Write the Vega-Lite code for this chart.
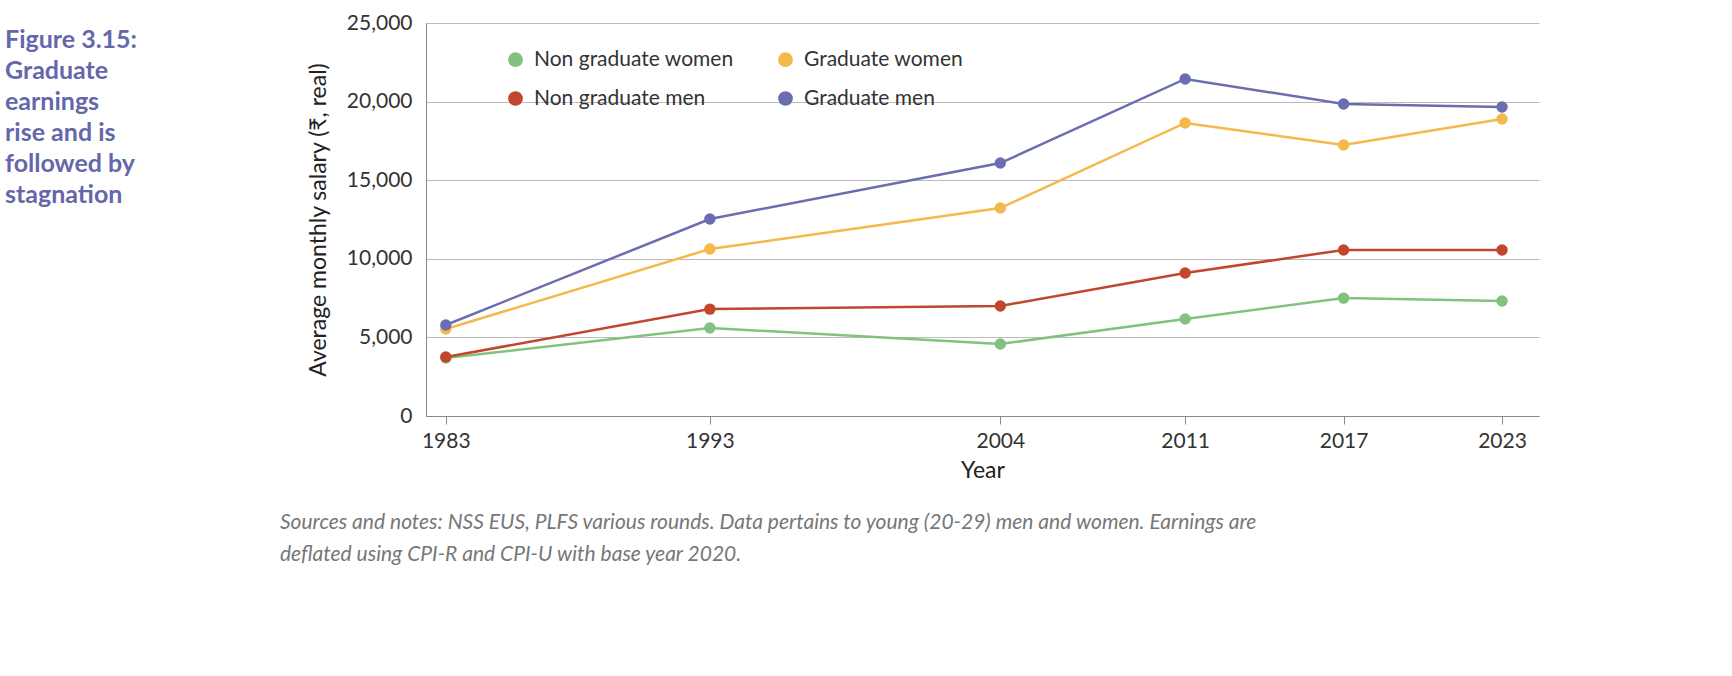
{
  "$schema": "https://vega.github.io/schema/vega-lite/v6.json",
  "background": "white",
  "padding": {"left": 5, "top": 12, "right": 10, "bottom": 5},
  "config": {"font": "Lato", "view": {"stroke": null}},
  "title": {
    "text": ["Sources and notes: NSS EUS, PLFS various rounds. Data pertains to young (20-29) men and women. Earnings are", "deflated using CPI-R and CPI-U with base year 2020."],
    "orient": "bottom", "anchor": "start", "align": "left", "fontStyle": "italic", "fontWeight": "normal",
    "fontSize": 21, "color": "#777777", "lineHeight": 32, "offset": 30, "dx": 275
  },
  "spacing": 72,
  "hconcat": [
    {
      "width": 230, "height": 393,
      "data": {"values": [
        {"i": 0, "t": "Figure 3.15:"}, {"i": 1, "t": "Graduate"}, {"i": 2, "t": "earnings"},
        {"i": 3, "t": "rise and is"}, {"i": 4, "t": "followed by"}, {"i": 5, "t": "stagnation"}
      ]},
      "mark": {"type": "text", "align": "left", "baseline": "middle", "fontSize": 25, "fontWeight": "bold", "color": "#6467aa"},
      "encoding": {
        "x": {"value": 0},
        "y": {"field": "i", "type": "quantitative", "scale": {"domain": [-0.55, 12.1], "reverse": true}, "axis": null},
        "text": {"field": "t"}
      }
    },
    {
      "width": 1113, "height": 393,
      "data": {"values": [
        {"g": "Non graduate women", "year": 1983, "v": 3690},
        {"g": "Non graduate women", "year": 1993, "v": 5600},
        {"g": "Non graduate women", "year": 2004, "v": 4580},
        {"g": "Non graduate women", "year": 2011, "v": 6170},
        {"g": "Non graduate women", "year": 2017, "v": 7500},
        {"g": "Non graduate women", "year": 2023, "v": 7320},
        {"g": "Graduate women", "year": 1983, "v": 5530},
        {"g": "Graduate women", "year": 1993, "v": 10620},
        {"g": "Graduate women", "year": 2004, "v": 13230},
        {"g": "Graduate women", "year": 2011, "v": 18640},
        {"g": "Graduate women", "year": 2017, "v": 17240},
        {"g": "Graduate women", "year": 2023, "v": 18890},
        {"g": "Non graduate men", "year": 1983, "v": 3750},
        {"g": "Non graduate men", "year": 1993, "v": 6800},
        {"g": "Non graduate men", "year": 2004, "v": 7000},
        {"g": "Non graduate men", "year": 2011, "v": 9100},
        {"g": "Non graduate men", "year": 2017, "v": 10560},
        {"g": "Non graduate men", "year": 2023, "v": 10560},
        {"g": "Graduate men", "year": 1983, "v": 5790},
        {"g": "Graduate men", "year": 1993, "v": 12530},
        {"g": "Graduate men", "year": 2004, "v": 16090},
        {"g": "Graduate men", "year": 2011, "v": 21440},
        {"g": "Graduate men", "year": 2017, "v": 19850},
        {"g": "Graduate men", "year": 2023, "v": 19660}
      ]},
      "mark": {"type": "line", "strokeWidth": 2.5, "point": {"size": 130, "filled": true, "opacity": 1}},
      "encoding": {
        "x": {"field": "year", "type": "quantitative", "title": "Year",
          "scale": {"domain": [1982.25, 2024.4], "nice": false, "zero": false},
          "axis": {"values": [1983, 1993, 2004, 2011, 2017, 2023], "format": "d", "grid": false,
            "labelFontSize": 21, "titleFontSize": 23, "titleFontWeight": "normal", "labelColor": "#333", "titleColor": "#222",
            "domainColor": "#888", "tickColor": "#888", "tickSize": 8, "labelPadding": 6, "titlePadding": 8}},
        "y": {"field": "v", "type": "quantitative", "title": "Average monthly salary (₹, real)",
          "scale": {"domain": [0, 25000], "nice": false},
          "axis": {"values": [0, 5000, 10000, 15000, 20000, 25000], "format": ",.0f", "ticks": false, "domain": true,
            "domainColor": "#888", "gridColor": "#bbbbbb", "labelFontSize": 21, "titleFontSize": 23,
            "titleFontWeight": "normal", "labelColor": "#333", "titleColor": "#222", "labelPadding": 14, "titlePadding": 16}},
        "color": {"field": "g", "type": "nominal",
          "scale": {"domain": ["Non graduate women", "Non graduate men", "Graduate women", "Graduate men"],
            "range": ["#82c27e", "#c2462c", "#f5b94b", "#6a6db0"]},
          "legend": {"orient": "none", "legendX": 500, "legendY": 26, "columns": 2, "title": null,
            "symbolType": "circle", "symbolSize": 150, "labelFontSize": 21, "labelColor": "#333", "labelLimit": 400,
            "columnPadding": 40, "rowPadding": 16, "labelOffset": 8, "symbolStrokeWidth": 2.5}}
      }
    }
  ]
}
